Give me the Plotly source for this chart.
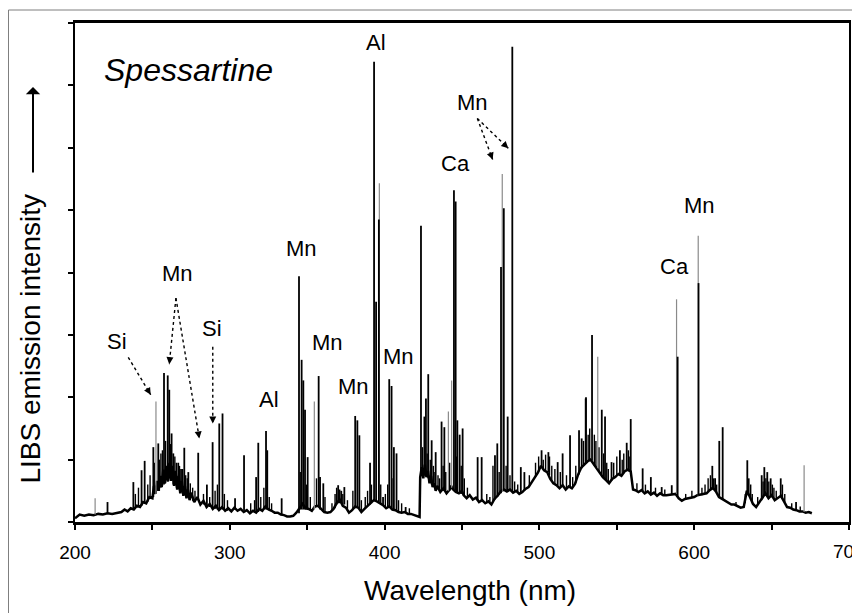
import plotly.graph_objects as go

# ---------------- data ----------------
# continuum / background emission: wavelength (nm) and intensity (arb. units)
cont_wl = [200, 203, 206, 209, 212, 215, 218, 221, 224, 227, 230, 232, 234, 236, 238, 240, 242, 244, 246, 248,
           250, 251, 252, 253, 254, 255, 256, 257, 258, 259, 260, 261, 262, 263, 264, 265, 266, 267, 268, 269,
           270, 271, 272, 273, 274, 275, 277, 279, 281, 283, 285, 287, 289, 291, 293, 295, 297, 299, 301, 303,
           305, 307, 309, 311, 313, 315, 317, 319, 321, 323, 325, 327, 329, 331, 333, 335, 337, 339, 341, 343,
           345, 347, 349, 351, 353, 355, 357, 359, 361, 363, 365, 367, 369, 371, 373, 375, 377, 379, 381, 383,
           385, 387, 389, 391, 393, 395, 397, 399, 401, 403, 405, 407, 409, 411, 413, 415, 417, 419, 421, 422.6,
           423, 424, 425, 426, 427, 428, 429, 430, 431, 432, 433, 434, 436, 438, 440, 442, 443, 444, 446, 448,
           450, 451, 453, 455, 457, 459, 461, 463, 465, 467, 469, 471, 473, 475, 477, 479, 481, 483, 485, 487,
           489, 491, 493, 495, 497, 499, 501, 503, 505, 507, 509, 511, 513, 515, 517, 519, 521, 523, 525, 527,
           529, 531, 533, 535, 537, 539, 541, 543, 545, 547, 549, 551, 553, 555, 557, 559, 560.5, 562, 564, 566,
           568, 570, 572, 574, 576, 578, 580, 582, 584, 586, 588, 590, 592, 594, 596, 598, 600, 602, 604, 606,
           608, 610, 612, 614, 616, 618, 620, 622, 624, 626, 628, 630, 632, 634, 636, 638, 640, 642, 644, 646,
           648, 650, 652, 654, 656, 658, 660, 662, 664, 666, 668, 670, 672, 674, 676]
cont_int = [0.06, 0.12, 0.10, 0.12, 0.11, 0.13, 0.12, 0.14, 0.13, 0.15, 0.16, 0.20, 0.17, 0.22, 0.20, 0.26, 0.24, 0.32, 0.30, 0.40,
            0.38, 0.58, 0.45, 0.66, 0.50, 0.74, 0.56, 0.84, 0.62, 0.90, 0.65, 0.95, 0.66, 0.90, 0.58, 0.82, 0.52, 0.74, 0.46, 0.66,
            0.42, 0.58, 0.38, 0.52, 0.35, 0.47, 0.32, 0.40, 0.28, 0.34, 0.24, 0.29, 0.21, 0.26, 0.19, 0.24, 0.18, 0.22, 0.17, 0.23,
            0.18, 0.21, 0.16, 0.19, 0.14, 0.18, 0.15, 0.21, 0.18, 0.25, 0.20, 0.18, 0.15, 0.15, 0.12, 0.11, 0.09, 0.09, 0.10, 0.15,
            0.22, 0.29, 0.22, 0.21, 0.18, 0.25, 0.26, 0.21, 0.16, 0.15, 0.16, 0.21, 0.30, 0.36, 0.26, 0.23, 0.15, 0.19, 0.25, 0.23,
            0.16, 0.21, 0.26, 0.31, 0.35, 0.33, 0.30, 0.27, 0.22, 0.25, 0.20, 0.19, 0.16, 0.15, 0.16, 0.13, 0.13, 0.11, 0.09, 0.08,
            0.72, 0.88, 0.70, 0.92, 0.72, 0.82, 0.62, 0.74, 0.56, 0.62, 0.50, 0.58, 0.48, 0.54, 0.46, 0.52, 0.58, 0.53, 0.48, 0.46,
            0.50, 0.43, 0.38, 0.43, 0.36, 0.39, 0.32, 0.35, 0.30, 0.33, 0.28, 0.37, 0.42, 0.49, 0.52, 0.49, 0.52, 0.47, 0.50, 0.45,
            0.48, 0.53, 0.56, 0.63, 0.70, 0.79, 0.90, 0.83, 0.80, 0.69, 0.62, 0.59, 0.54, 0.59, 0.52, 0.57, 0.54, 0.61, 0.76, 0.87,
            0.92, 0.97, 1.00, 0.93, 0.84, 0.79, 0.72, 0.67, 0.62, 0.69, 0.72, 0.77, 0.74, 0.81, 0.84, 0.81, 0.52, 0.51, 0.48, 0.51,
            0.46, 0.49, 0.44, 0.47, 0.42, 0.46, 0.43, 0.43, 0.44, 0.44, 0.45, 0.38, 0.34, 0.37, 0.38, 0.40, 0.40, 0.43, 0.44, 0.44,
            0.46, 0.51, 0.55, 0.49, 0.40, 0.37, 0.34, 0.31, 0.28, 0.28, 0.25, 0.23, 0.24, 0.50, 0.40, 0.29, 0.24, 0.31, 0.40, 0.46,
            0.38, 0.43, 0.35, 0.39, 0.42, 0.33, 0.24, 0.23, 0.20, 0.19, 0.17, 0.17, 0.15, 0.16, 0.14]

# strong emission lines: wavelength, foot level, top level
peak_wl = [221, 237.7, 243, 245, 250.6, 253.8, 257.5, 259.9, 260.9, 262.4, 263.5, 266.7, 268.5, 270.6, 273.2,
           279.6, 285.2, 288.9, 293.2, 295.3, 303.4, 309.2, 317.0, 318.4, 323.4, 324.2, 333.5, 344.7, 346.4, 347.5,
           348.6, 350.3, 357.4, 358.3, 360.4, 370.0, 372.0, 374.0, 381.0, 382.4, 383.7, 390.6, 393.2, 394.5, 396.3,
           399.0, 403.0, 404.5, 406.0, 407.7, 413.6, 423.5, 425.7, 426.7, 428.2, 430.4, 433.0, 436.8, 438.6, 444.8,
           445.9, 447.0, 448.5, 450.4, 460.1, 462.7, 471.3, 472.8, 475.2, 477.0, 479.5, 482.5, 488.0, 490.3, 501.4,
           505.8, 506.4, 511.8, 515.0, 519.8, 525.6, 527.3, 529.9, 530.1, 534.0, 540.3, 542.4, 546.6, 552.0, 556.4,
           559.0, 566.7, 572.0, 579.0, 585.5, 589.3, 602.8, 611.7, 613.5, 616.2, 618.4, 634.3, 635.2, 643.6, 645.3,
           647.2, 649.4, 655.9, 665.8]
peak_base = [0.14, 0.20, 0.26, 0.30, 0.40, 0.50, 0.60, 0.65, 0.70, 0.70, 0.60, 0.55, 0.50, 0.45, 0.40,
             0.35, 0.25, 0.22, 0.20, 0.20, 0.20, 0.18, 0.16, 0.16, 0.20, 0.20, 0.12, 0.14, 0.20, 0.20,
             0.20, 0.20, 0.24, 0.20, 0.16, 0.30, 0.30, 0.28, 0.22, 0.22, 0.22, 0.28, 0.35, 0.34, 0.32,
             0.26, 0.24, 0.22, 0.20, 0.18, 0.15, 0.75, 0.75, 0.80, 0.70, 0.60, 0.52, 0.50, 0.50, 0.52,
             0.50, 0.48, 0.45, 0.45, 0.35, 0.34, 0.36, 0.40, 0.46, 0.50, 0.48, 0.48, 0.46, 0.50, 0.88,
             0.80, 0.75, 0.58, 0.58, 0.56, 0.76, 0.86, 0.94, 0.94, 0.98, 0.76, 0.68, 0.66, 0.76, 0.82,
             0.80, 0.50, 0.46, 0.45, 0.44, 0.42, 0.42, 0.52, 0.50, 0.40, 0.36, 0.45, 0.42, 0.35, 0.42,
             0.42, 0.40, 0.40, 0.19]
peak_top = [0.32, 0.64, 0.83, 0.98, 1.20, 1.26, 2.39, 2.35, 2.12, 1.42, 1.10, 0.95, 0.85, 1.19, 0.80,
            1.11, 0.60, 1.28, 1.58, 1.74, 0.38, 1.07, 0.72, 1.27, 1.46, 1.15, 0.38, 3.94, 2.60, 2.27,
            1.80, 1.04, 2.34, 0.72, 0.62, 0.59, 0.50, 0.56, 1.70, 1.63, 1.39, 0.95, 7.38, 3.53, 4.85,
            0.40, 2.29, 2.18, 1.20, 1.10, 0.24, 4.75, 1.69, 1.98, 2.37, 1.31, 1.12, 1.61, 1.52, 5.32,
            5.14, 1.63, 1.40, 1.50, 1.04, 1.04, 1.07, 1.26, 4.09, 5.03, 1.69, 7.62, 0.88, 0.80, 1.15,
            1.12, 1.05, 0.96, 1.10, 1.39, 1.47, 1.34, 1.98, 2.00, 3.00, 1.80, 1.69, 0.96, 1.15, 1.27,
            1.65, 0.86, 0.72, 0.56, 0.59, 2.65, 3.83, 0.90, 0.70, 1.30, 1.52, 0.99, 0.70, 0.75, 0.88,
            0.80, 0.70, 0.70, 0.32]

# weak lines that thicken the continuum
minor_wl = [239, 241, 247, 248.5, 251.2, 254.5, 255.5, 256.5, 258.5, 261.8, 264.5, 265.5, 267.5, 269.5, 271.5,
            272.5, 274.5, 276, 277.5, 283, 287, 290.5, 292, 296.5, 298.5, 313.5, 316, 320, 322, 325.5,
            327, 345.5, 349.5, 352, 356, 361.5, 366, 368, 369, 371, 373, 376, 379.5, 385, 387.5,
            389, 391.5, 397.5, 400.5, 402, 405.5, 409, 411, 416, 424.5, 427.5, 429.5, 431.5, 432.5, 434.5,
            435.5, 437.8, 439.5, 442, 446.5, 449.5, 451.5, 453.5, 466, 468, 470, 474, 478.5, 481, 484,
            486, 493.5, 497.5, 499.5, 502.5, 504, 508, 510, 513.5, 517.5, 521.5, 523.5, 528.5, 531.5, 532.5,
            535.5, 536.5, 538.5, 541.5, 543.5, 544.5, 548, 550, 553.5, 554.5, 557.5, 558, 563, 568.5, 575,
            581, 594.5, 598.5, 605, 607, 609, 610.5, 612.5, 614.5, 627, 633, 636.5, 637.5, 641, 644.5,
            646.3, 648.2, 650.5, 651.5, 653, 657, 658.5, 663, 668.5]
minor_base = [0.22, 0.25, 0.32, 0.38, 0.45, 0.50, 0.55, 0.58, 0.62, 0.70, 0.60, 0.55, 0.50, 0.45, 0.42,
              0.40, 0.36, 0.34, 0.32, 0.28, 0.24, 0.21, 0.20, 0.19, 0.18, 0.14, 0.15, 0.18, 0.20, 0.20,
              0.17, 0.20, 0.22, 0.20, 0.24, 0.16, 0.18, 0.22, 0.28, 0.30, 0.28, 0.20, 0.20, 0.18, 0.22,
              0.26, 0.30, 0.30, 0.24, 0.23, 0.20, 0.17, 0.15, 0.12, 0.80, 0.75, 0.65, 0.58, 0.55, 0.52,
              0.50, 0.50, 0.50, 0.50, 0.48, 0.45, 0.42, 0.40, 0.30, 0.30, 0.32, 0.44, 0.50, 0.50, 0.48,
              0.47, 0.56, 0.72, 0.80, 0.85, 0.82, 0.65, 0.60, 0.55, 0.54, 0.55, 0.62, 0.90, 0.96, 0.98,
              0.90, 0.88, 0.80, 0.70, 0.65, 0.63, 0.70, 0.74, 0.76, 0.78, 0.82, 0.81, 0.50, 0.47, 0.44,
              0.43, 0.36, 0.39, 0.43, 0.45, 0.48, 0.50, 0.52, 0.48, 0.26, 0.30, 0.38, 0.30, 0.28, 0.38,
              0.42, 0.40, 0.40, 0.36, 0.36, 0.38, 0.32, 0.21, 0.17]
minor_top = [0.45, 0.55, 0.60, 0.75, 0.95, 1.00, 1.10, 1.15, 1.30, 1.25, 1.05, 0.95, 0.90, 0.85, 0.75,
             0.70, 0.62, 0.55, 0.50, 0.45, 0.40, 0.50, 0.60, 0.45, 0.35, 0.30, 0.35, 0.40, 0.55, 0.40,
             0.30, 0.80, 0.60, 0.40, 0.70, 0.40, 0.30, 0.45, 0.55, 0.52, 0.45, 0.35, 0.50, 0.35, 0.40,
             0.50, 0.60, 0.60, 0.45, 0.60, 0.70, 0.35, 0.30, 0.22, 1.20, 1.10, 1.00, 0.90, 0.80, 0.75,
             0.70, 0.90, 0.80, 0.95, 1.05, 0.90, 0.70, 0.55, 0.45, 0.40, 0.90, 0.80, 0.90, 0.75, 0.65,
             0.60, 0.75, 0.95, 1.05, 1.00, 1.08, 0.90, 0.85, 0.80, 0.75, 0.72, 0.90, 1.30, 1.40, 1.50,
             1.40, 1.30, 1.20, 1.10, 0.95, 0.85, 0.95, 1.05, 1.00, 1.10, 1.15, 1.05, 0.62, 0.60, 0.55,
             0.52, 0.45, 0.50, 0.55, 0.60, 0.70, 0.75, 0.70, 0.60, 0.32, 0.45, 0.60, 0.45, 0.40, 0.65,
             0.70, 0.65, 0.60, 0.55, 0.50, 0.60, 0.45, 0.30, 0.25]

# faint (grey) emission lines
faint_wl = [213, 252.3, 354.6, 396.6, 441.2, 443.3, 476.0, 537.7, 588.6, 602.6, 671.0]
faint_base = [0.12, 0.45, 0.20, 0.32, 0.50, 0.55, 0.48, 0.86, 0.45, 0.42, 0.16]
faint_top = [0.38, 1.93, 1.93, 5.43, 1.77, 2.27, 5.58, 2.65, 3.57, 4.59, 0.91]

# element labels: text, wavelength, intensity
label_text = ["Al", "Mn", "Mn", "Si", "Si", "Al", "Mn", "Mn", "Mn", "Ca", "Mn", "Ca", "Mn"]
label_wl = [394.4, 346.0, 265.9, 227.1, 288.5, 325.3, 362.8, 380.2, 408.7, 445.5, 457.1, 587.3, 603.7]
label_int = [7.68, 4.38, 3.98, 2.90, 3.11, 1.97, 2.87, 2.18, 2.65, 5.75, 6.73, 4.09, 5.08]

# dashed pointer arrows: start (wl, int) -> end (wl, int)
arrows = [
    ((234.4, 2.64), (248.9, 2.04)),
    ((265.2, 3.59), (260.9, 2.53)),
    ((265.2, 3.59), (280.3, 1.34)),
    ((289.0, 2.81), (289.0, 1.58)),
    ((459.9, 6.47), (469.8, 5.81)),
    ((459.9, 6.47), (479.9, 5.99)),
]

x_tickvals = [200, 250, 300, 350, 400, 450, 500, 550, 600, 650, 700]
x_ticktext = ["200", "", "300", "", "400", "", "500", "", "600", "", "700"]

# ---------------- figure ----------------
FONT = "Liberation Sans, Arial, sans-serif"
X0, X1, Y0, Y1 = 200, 700, 0, 8
OFF = 8                      # page body margin offsets the figure
W, H = 860 - OFF, 613 - OFF
ML, MR, MT, MB = 67, 11, 15, 91
pw = W - ML - MR
ph = H - MT - MB
PL = OFF + ML                # plot-left in window pixels
PB = OFF + MT + ph           # plot-bottom in window pixels


def paper_x(p):
    return (p - PL) / pw


def paper_y(p):
    return (PB - p) / ph


fig = go.Figure()

fig.add_trace(go.Scatter(x=cont_wl, y=cont_int, mode="lines",
                         line=dict(color="black", width=2.5), hoverinfo="skip"))


def segs(wl, base, top):
    xs, ys = [], []
    for w, b, t in zip(wl, base, top):
        xs += [w, w, None]
        ys += [b, t, None]
    return xs, ys


mx, my = segs(minor_wl, minor_base, minor_top)
fig.add_trace(go.Scatter(x=mx, y=my, mode="lines",
                         line=dict(color="black", width=1.4), hoverinfo="skip"))

fx, fy = segs(faint_wl, faint_base, faint_top)
fig.add_trace(go.Scatter(x=fx, y=fy, mode="lines",
                         line=dict(color="#8a8a8a", width=1.2), hoverinfo="skip"))

px, py = segs(peak_wl, peak_base, peak_top)
fig.add_trace(go.Scatter(x=px, y=py, mode="lines",
                         line=dict(color="black", width=1.8), hoverinfo="skip"))

for (s, e) in arrows:
    fig.add_trace(go.Scatter(x=[s[0], e[0]], y=[s[1], e[1]], mode="lines",
                             line=dict(color="black", width=1.4, dash="dot"), hoverinfo="skip"))

annotations = []
sx = pw / (X1 - X0)
sy = ph / (Y1 - Y0)
for (s, e) in arrows:
    dx = (e[0] - s[0]) * sx
    dy = -(e[1] - s[1]) * sy
    L = (dx * dx + dy * dy) ** 0.5
    annotations.append(dict(x=e[0], y=e[1], xref="x", yref="y", text="", showarrow=True,
                            arrowhead=2, arrowsize=1, arrowwidth=1.4, arrowcolor="black",
                            ax=-dx / L * 7, ay=-dy / L * 7, standoff=0))

for t, w, v in zip(label_text, label_wl, label_int):
    annotations.append(dict(x=w, y=v, xref="x", yref="y", text=t, showarrow=False,
                            font=dict(family=FONT, size=22, color="black"),
                            xanchor="center", yanchor="middle"))

annotations.append(dict(x=217.4, y=7.25, xref="x", yref="y", text="<i>Spessartine</i>",
                        showarrow=False, font=dict(family=FONT, size=32, color="black"),
                        xanchor="left", yanchor="middle"))

# the last tick label sits on the figure edge and is partly cut off in the reference
annotations.append(dict(x=x_tickvals[-1], y=paper_y(551), xref="x", yref="paper",
                        text=x_ticktext[-1], showarrow=False,
                        font=dict(family=FONT, size=19, color="black"),
                        xanchor="center", yanchor="middle"))

annotations.append(dict(x=paper_x(469.5), y=paper_y(590), xref="paper", yref="paper",
                        text="Wavelength (nm)", showarrow=False,
                        font=dict(family=FONT, size=28, color="black"),
                        xanchor="center", yanchor="middle"))
annotations.append(dict(x=paper_x(30), y=paper_y(339.5), xref="paper", yref="paper",
                        text="LIBS emission intensity", showarrow=False, textangle=-90,
                        font=dict(family=FONT, size=28, color="black"),
                        xanchor="center", yanchor="middle"))
annotations.append(dict(x=paper_x(33), y=paper_y(87), xref="paper", yref="paper",
                        text="", showarrow=True, arrowhead=1, arrowsize=1.2, arrowwidth=2,
                        arrowcolor="black", ax=0, ay=87, standoff=0))

fig.update_layout(
    width=W, height=H,
    margin=dict(l=ML, r=MR, t=MT, b=MB, pad=0, autoexpand=False),
    paper_bgcolor="white", plot_bgcolor="white",
    showlegend=False,
    annotations=annotations,
    shapes=[dict(type="rect", xref="paper", yref="paper",
                 x0=paper_x(8.5), x1=paper_x(900),
                 y0=paper_y(640), y1=paper_y(10),
                 line=dict(color="#7f7f7f", width=1), fillcolor="rgba(0,0,0,0)", layer="below")],
    xaxis=dict(range=[X0, X1], showgrid=False, zeroline=False, automargin=False,
               showline=True, linecolor="black", linewidth=3, mirror=True,
               ticks="outside", ticklen=5, tickwidth=1.5, tickcolor="black",
               tickvals=x_tickvals, ticktext=x_ticktext[:-1] + [""], ticklabelstandoff=6,
               tickfont=dict(family=FONT, size=19, color="black")),
    yaxis=dict(range=[Y0, Y1], showgrid=False, zeroline=False, automargin=False,
               showline=True, linecolor="black", linewidth=1.5, mirror=True,
               ticks="outside", ticklen=5, tickwidth=1.5, tickcolor="black",
               dtick=1, showticklabels=False),
)

fig.write_html("out.html")
